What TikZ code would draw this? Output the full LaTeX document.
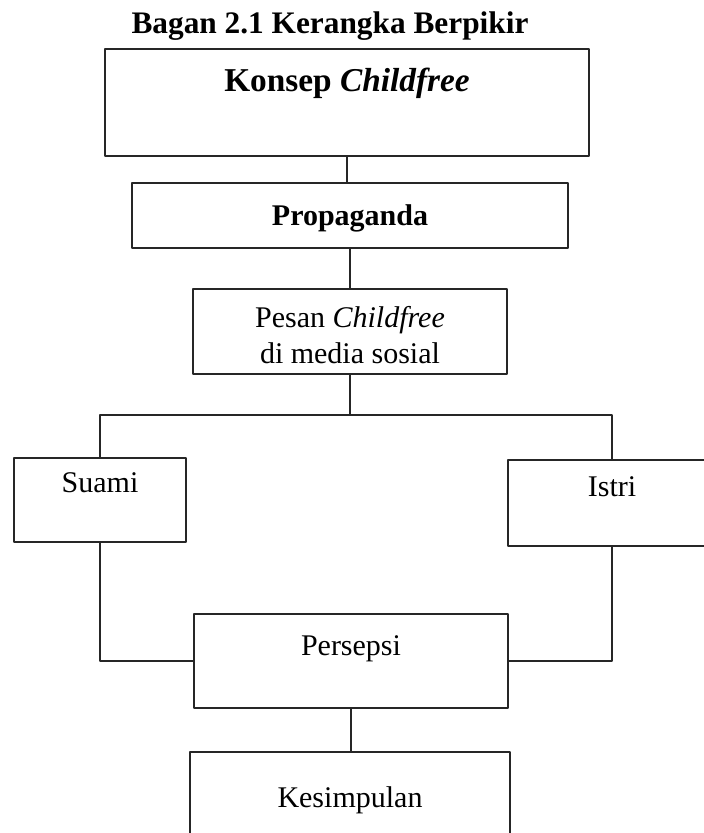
\documentclass[tikz,border=0pt]{standalone}
\usepackage{fontspec}
\setmainfont{Liberation Serif}
\usetikzlibrary{positioning}
\begin{document}
\begin{tikzpicture}[x=0.75pt,y=-0.75pt, line join=round, line cap=round,
	font=\fontsize{22.5pt}{27pt}\selectfont,
	kotak/.style={draw=black!85, line width=1.2pt, inner sep=0pt, anchor=base, align=center},
	garis/.style={draw=black!85, line width=1.2pt}]
	\useasboundingbox (0,0) rectangle (704,833);
	\clip (0,0) rectangle (704,833);
	\node[anchor=base, font=\fontsize{23.5pt}{27pt}\selectfont\bfseries] (judul) at (330,33) {Bagan 2.1 Kerangka Berpikir};
	% kotak-kotak
	\node[kotak, minimum width=363pt, text height=31.5pt, text depth=48.75pt, font=\fontsize{25pt}{30pt}\selectfont] (konsep) at (347,91) {\textbf{Konsep \textit{Childfree}}};
	\node[kotak, minimum width=327pt, text height=31.5pt, text depth=17.25pt] (propaganda) at (350,225) {\textbf{Propaganda}};
	\node[kotak, minimum width=235.5pt, text height=55.5pt, text depth=8.25pt] (pesan) at (350,363) {Pesan \textit{Childfree}\\di media sosial};
	\node[kotak, minimum width=129pt, text height=25.5pt, text depth=37.5pt] (suami) at (100,492) {Suami};
	\node[kotak, minimum width=156pt, text height=27pt, text depth=37.5pt] (istri) at (612,496) {Istri};
	\node[kotak, minimum width=235.5pt, text height=30.75pt, text depth=39.75pt] (persepsi) at (351,655) {Persepsi};
	\node[kotak, minimum width=240pt, text height=41.25pt, text depth=30pt] (kesimpulan) at (350,807) {Kesimpulan};
	% garis penghubung
	\coordinate (cabang) at (350,415);
	\draw[garis] (konsep.south) -- (konsep.south |- propaganda.north);
	\draw[garis] (propaganda.south) -- (propaganda.south |- pesan.north);
	\draw[garis] (pesan.south) -- (cabang);
	\draw[garis] (suami.north) |- (cabang) -| (istri.north);
	\draw[garis] (suami.south) |- (persepsi.west);
	\draw[garis] (istri.south) |- (persepsi.east);
	\draw[garis] (persepsi.south) -- (persepsi.south |- kesimpulan.north);
\end{tikzpicture}
\end{document}
